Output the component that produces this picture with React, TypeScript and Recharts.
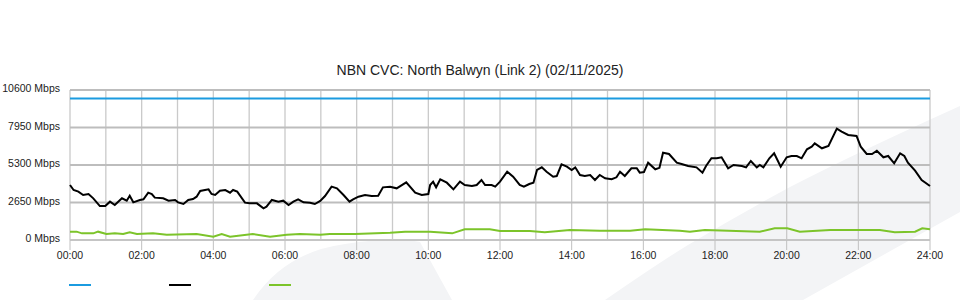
import React from 'react'
import { LineChart, Line, XAxis, YAxis, CartesianGrid } from 'recharts'

// time of day in minutes (00:00 .. 24:00)
const xTicks = [0, 120, 240, 360, 480, 600, 720, 840, 960, 1080, 1200, 1320, 1440]
const hourLines = [0, 60, 120, 180, 240, 300, 360, 420, 480, 540, 600, 660, 720, 780, 840, 900, 960, 1020, 1080, 1140, 1200, 1260, 1320, 1380, 1440]
const yTicks = [0, 2650, 5300, 7950, 10600]

const capacityMinutes = [0, 1440]
const capacityMbps = [10000, 10000]

const trafficMinutes = [
  0, 6, 14, 22, 31, 39, 50, 59, 67, 75,
  87, 95, 100, 106, 117, 123, 131, 137, 142, 156,
  165, 176, 181, 190, 198, 206, 212, 218, 226, 232,
  237, 243, 251, 260, 268, 273, 280, 293, 301, 313,
  324, 329, 338, 349, 357, 366, 374, 382, 391, 402,
  410, 419, 427, 438, 447, 458, 468, 474, 483, 494,
  505, 516, 524, 536, 547, 563, 578, 589, 600, 603,
  608, 613, 620, 631, 642, 653, 661, 673, 681, 689,
  695, 706, 712, 720, 732, 742, 753, 760, 769, 776,
  782, 790, 798, 809, 815, 823, 832, 840, 846, 854,
  862, 871, 879, 887, 896, 907, 915, 921, 929, 940,
  949, 954, 961, 968, 980, 987, 993, 1003, 1016, 1024,
  1035, 1049, 1059, 1065, 1074, 1083, 1091, 1102, 1111, 1125,
  1132, 1140, 1150, 1155, 1161, 1171, 1179, 1190, 1200, 1208,
  1217, 1225, 1234, 1242, 1247, 1259, 1270, 1284, 1292, 1303,
  1317, 1324, 1334, 1343, 1351, 1362, 1370, 1380, 1390, 1397,
  1403, 1415, 1426, 1440,
]
const trafficMbps = [
  3887, 3533, 3415, 3180, 3250, 2945, 2400, 2400, 2710, 2473,
  2945, 2780, 3133, 2662, 2827, 2875, 3345, 3250, 2992, 2945,
  2780, 2827, 2662, 2544, 2827, 2898, 3060, 3463, 3533, 3580,
  3250, 3180, 3485, 3533, 3345, 3533, 3415, 2638, 2590, 2590,
  2237, 2355, 2827, 2710, 2780, 2473, 2710, 2875, 2662, 2638,
  2544, 2760, 3110, 3769, 3651, 3180, 2710, 2875, 3063, 3180,
  3110, 3133, 3722, 3769, 3651, 4077, 3345, 3180, 3250, 3887,
  4122, 3722, 4290, 4050, 3580, 4122, 3887, 3816, 3887, 4240,
  3887, 3887, 3769, 4122, 4827, 4473, 3887, 3769, 3957, 4050,
  4947, 5135, 4827, 4473, 4520, 5348, 5180, 4947, 5135, 4593,
  4523, 4593, 4240, 4593, 4360, 4290, 4430, 4827, 4523, 5067,
  5067, 4757, 4800, 5463, 4996, 5100, 6170, 6077, 5463, 5371,
  5230, 5135, 4757, 5230, 5774, 5774, 5845, 5067, 5300, 5230,
  5135, 5583, 5135, 5300, 5135, 5774, 6127, 5180, 5845, 5936,
  5936, 5774, 6410, 6593, 6833, 6480, 6643, 7866, 7654, 7420,
  7350, 6593, 6077, 6077, 6311, 5845, 5936, 5420, 6127, 5936,
  5463, 4897, 4240, 3816,
]

const upMinutes = [
  0, 11, 20, 39, 47, 61, 75, 89, 100, 112,
  139, 162, 212, 240, 254, 268, 306, 335, 363, 385,
  419, 435, 477, 536, 561, 603, 640, 661, 703, 720,
  770, 795, 837, 887, 938, 963, 1021, 1038, 1063, 1155,
  1180, 1201, 1222, 1273, 1356, 1381, 1415, 1427, 1440,
]
const upMbps = [
  589, 589, 471, 471, 589, 424, 471, 424, 542, 424,
  471, 377, 424, 236, 424, 236, 424, 236, 377, 424,
  377, 424, 424, 518, 589, 589, 471, 754, 754, 636,
  636, 542, 707, 660, 660, 754, 660, 589, 707, 589,
  825, 825, 589, 707, 707, 542, 589, 825, 754,
]

const title = 'NBN CVC: North Balwyn (Link 2) (02/11/2025)'

const BLUE = '#1b9be0'
const BLACK = '#000000'
const GREEN = '#7cc42a'
const FONT = '"Liberation Sans", Arial, sans-serif'

const toRows = (ts: number[], vs: number[]) => ts.map((t, i) => ({ t, v: vs[i] }))

const fmtTime = (m: number) => String(Math.floor(m / 60)).padStart(2, '0') + ':00'

function XTick({ x, y, payload }: any) {
  return (
    <text x={x} y={y + 3} textAnchor="middle" dominantBaseline="central" fontSize={10.5} fontFamily={FONT} fill="#222">
      {fmtTime(payload.value)}
    </text>
  )
}

function YTick({ x, y, payload }: any) {
  return (
    <text x={x} y={y - 2} textAnchor="end" dominantBaseline="central" fontSize={10.5} fontFamily={FONT} fill="#222">
      {payload.value} Mbps
    </text>
  )
}

export default function App() {
  const capacity = toRows(capacityMinutes, capacityMbps)
  const traffic = toRows(trafficMinutes, trafficMbps)
  const up = toRows(upMinutes, upMbps)

  return (
    <div style={{ position: 'absolute', left: 0, top: 0, width: 960, height: 300, background: '#fff', overflow: 'hidden' }}>
      {/* faint watermark behind the plot */}
      <svg width={960} height={300} style={{ position: 'absolute', left: 0, top: 0 }}>
        <path d="M253,300 Q285,252 345,244 Q395,236 420,242 L452,300 Z" fill="#f3f4f6" />
        <path d="M605,300 Q660,262 688,245 Q740,214 790,187 Q860,151 960,106 L960,212 L910,240 L803,300 Z" fill="#f3f4f6" />
      </svg>
      <div style={{ position: 'absolute', left: 0, top: 63, width: 960, textAlign: 'center', fontFamily: FONT, fontSize: 14, lineHeight: '14px', color: '#222' }}>
        {title}
      </div>
      <div style={{ position: 'absolute', left: 0, top: 0 }}>
        <LineChart width={960} height={300} margin={{ top: 90, right: 30, bottom: 30, left: 0 }}>
          <CartesianGrid horizontal={false} verticalValues={hourLines} stroke="#cacaca" strokeWidth={1.3} />
          <CartesianGrid vertical={false} stroke="#bdbdbd" strokeWidth={2} />
          <XAxis
            dataKey="t"
            type="number"
            domain={[0, 1440]}
            ticks={xTicks}
            height={30}
            tickSize={10}
            tickMargin={2}
            tick={<XTick />}
            axisLine={{ stroke: '#c8c8c8', strokeWidth: 1.5 }}
            tickLine={{ stroke: '#c0c0c0' }}
          />
          <YAxis
            type="number"
            domain={[0, 10600]}
            ticks={yTicks}
            width={70}
            tickSize={0}
            tickMargin={10}
            axisLine={false}
            tickLine={false}
            tick={<YTick />}
          />
          <Line data={capacity} dataKey="v" stroke={BLUE} strokeWidth={2} dot={false} isAnimationActive={false} />
          <Line data={up} dataKey="v" type="linear" stroke={GREEN} strokeWidth={2} dot={false} isAnimationActive={false} />
          <Line data={traffic} dataKey="v" type="linear" stroke={BLACK} strokeWidth={2} dot={false} isAnimationActive={false} />
        </LineChart>
      </div>
      {[BLUE, BLACK, GREEN].map((c, i) => (
        <div key={c} style={{ position: 'absolute', left: 69 + i * 100, top: 284, width: 22, height: 2, background: c }} />
      ))}
    </div>
  )
}
